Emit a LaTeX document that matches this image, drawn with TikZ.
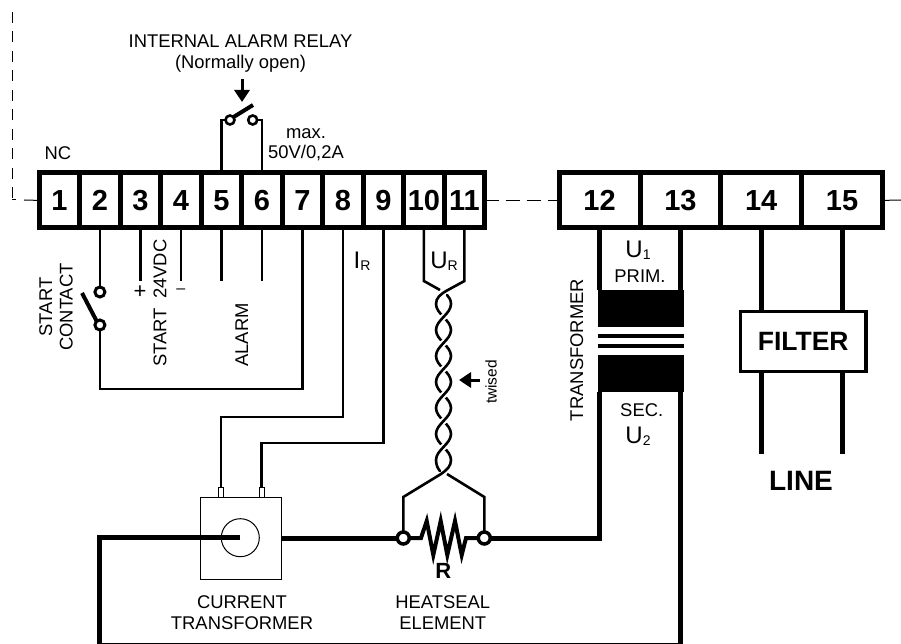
\documentclass[tikz,border=0pt]{standalone}
\usepackage{fontspec}
\setmainfont{Liberation Sans}
\usetikzlibrary{arrows.meta}
\newcommand{\lab}[2]{{\fontsize{24}{24}\selectfont #1\raisebox{-2.5pt}{\fontsize{14}{14}\selectfont #2}}}
\tikzset{
    terminal/.style={draw, line width=5pt, inner sep=0pt, outer sep=0pt, minimum height=55pt, font=\fontsize{29}{29}\selectfont\bfseries},
    smallterm/.style={terminal, minimum width=40.5pt},
    wideterm/.style={terminal, minimum width=80.8pt},
    wire/.style={line width=2.6pt, line join=miter},
    heavy/.style={line width=5pt, line join=miter},
    thin/.style={line width=1pt},
    pole/.style={circle, draw, fill=white, line width=3pt, inner sep=0pt, minimum size=10pt, outer sep=0pt},
    bigpole/.style={pole, minimum size=12pt, line width=3.5pt},
    tab/.style={draw, line width=1pt, fill=white, minimum width=5pt, minimum height=10pt, inner sep=0pt, outer sep=0pt},
    label/.style={font=\fontsize{18.4}{20.5}\selectfont, align=center, inner sep=0pt},
    lever/.style={line width=4pt},
    pointer/.style={line width=3pt, -{Triangle[length=12pt, width=15pt]}},
    halo/.style={white, line width=6.5pt},
    strand/.style={line width=2.6pt, line cap=round}
}
\begin{document}
\begin{tikzpicture}[x=1pt, y=-1pt]
    \useasboundingbox (0,0) rectangle (901,644);

    % Terminals 1-11
    \foreach \i/\x in {1/59.4, 2/99.9, 3/140.4, 4/180.9, 5/221.4, 6/261.9, 7/302.4, 8/342.9, 9/383.4, 10/423.9, 11/464.4} {
        \node[smallterm] (t\i) at (\x, 200.4) {\i};
    }

    % Terminals 12-15
    \foreach \i/\x in {12/599.6, 13/680.4, 14/761.2, 15/842} {
        \node[wideterm] (t\i) at (\x, 200.4) {\i};
    }

    % Dashed links
    \coordinate (dashtop) at (12,12);
    \coordinate (dashcorner) at (12,200);
    \coordinate (dashend) at (16,200);
    \coordinate (stubleft) at (24,200);
    \coordinate (stubright) at (901,200);
    \draw[thin, dash pattern=on 11pt off 8.5pt] (dashtop) -- (dashcorner);
    \draw[thin] (dashcorner) -- (dashend);
    \draw[thin] (stubleft) -- (t1.west);
    \draw[thin, dash pattern=on 14pt off 7pt] (t11.east) -- (t12.west);
    \draw[thin] (t15.east) -- (stubright);

    % Relay
    \node[label] (relaytext) at (240.5, 53.5) {INTERNAL ALARM RELAY\\[1pt](Normally open)};
    \node[pole, minimum size=9pt, line width=2.6pt] (relaya) at (230, 120) {};
    \node[pole, minimum size=9pt, line width=2.6pt] (relayb) at (252.7, 120) {};
    \draw[wire] (t5.north) |- (relaya.west);
    \draw[wire] (t6.north) |- (relayb.east);
    \coordinate (leverend) at (253, 105);
    \draw[lever] (relaya.40) -- (leverend);
    \coordinate (arrowtop) at (242, 79);
    \coordinate (arrowtip) at (242, 102);
    \draw[pointer] (arrowtop) -- (arrowtip);
    \node[label] (maxtext) at (306, 144.5) {max.\\50V/0,2A};
    \node[label] (nc) at (58, 152.7) {NC};

    % Start contact
    \node[pole, minimum size=10pt] (starta) at (99.9, 292) {};
    \node[pole, minimum size=10pt] (startb) at (99.9, 325) {};
    \coordinate (contactbend) at (99.9, 389);
    \coordinate (contactend) at (82, 293);
    \draw[wire] (t2.south) -- (starta.north);
    \draw[wire] (startb.south) |- (contactbend) -| (t7.south);
    \draw[lever] (startb.130) -- (contactend);
    \node[label, rotate=90] (contacttext) at (56, 307) {START\\CONTACT};

    % Start and alarm inputs
    \foreach \i in {3,4,5,6} {
        \coordinate (end\i) at (t\i.south |- 0,281);
        \draw[wire] (t\i.south) -- (end\i);
    }
    \node[label] (plus) at (140, 291.7) {\fontsize{22}{22}\selectfont +};
    \node[label] (minus) at (180.7, 291.7) {\fontsize{16}{16}\selectfont --};
    \node[label, rotate=90] (starttext) at (160, 303) {START\enspace 24VDC};
    \node[label, rotate=90] (alarmtext) at (241.7, 335) {ALARM};

    % Current transformer
    \node[draw, thin, minimum size=81.4pt, inner sep=0pt, outer sep=0pt] (ct) at (241, 538.3) {};
    \node[draw, thin, circle, minimum size=38pt, inner sep=0pt] (cthole) at (240.3, 537.7) {};
    \node[tab] (taba) at (221, 492.7) {};
    \node[tab] (tabb) at (261.7, 492.7) {};
    \coordinate (benda) at (221, 417);
    \coordinate (bendb) at (261.7, 443);
    \draw[wire] (t8.south) |- (benda) -- (taba.north);
    \draw[wire] (t9.south) |- (bendb) -- (tabb.north);
    \node[label] (cttext) at (242, 612.5) {CURRENT\\TRANSFORMER};
    \node[label] (irtext) at (362, 261) {\lab{I}{R}};

    % Heatseal element
    \node[bigpole] (rleft) at (403.3, 538) {};
    \node[bigpole] (rright) at (484.3, 538) {};
    \coordinate (lineend) at (240.3, 537.7);
    \coordinate (corner) at (99.3, 645.5);
    \coordinate (seca) at (599.6, 392);
    \coordinate (secb) at (680.4, 392);
    \draw[heavy] (lineend) -| (corner) -| (secb);
    \draw[heavy] (ct.east |- rleft) -- (rleft.west);
    \draw[heavy] (rright.east) -| (seca);
    \draw[line width=4pt, line join=miter] (rleft.east) -- (421,538) -- (426.7,521) -- (433.3,555) -- (440.7,521) -- (447.3,555) -- (455,521) -- (461.7,555) -- (466,538) -- (rright.west);
    \node[inner sep=0pt, font=\fontsize{22}{22}\selectfont\bfseries] (rtext) at (443.3, 570.7) {R};
    \node[label] (heattext) at (442.7, 612.8) {HEATSEAL\\ELEMENT};

    % U_R wires
    \coordinate (urleft) at (423.9, 281);
    \coordinate (urright) at (464.4, 281);
    \coordinate (bleft) at (403.3, 497);
    \coordinate (bright) at (484.3, 497);
    \draw[wire] (t10.south) -- (urleft) -- (440,290);
    \draw[wire] (t11.south) -- (urright) -- (447,290.5) .. controls (440,294.5) and (436,298) .. (436,304);
    \draw[strand] (447,295) .. controls (449,297) and (451,300) .. (451,304);
    \node[label] (urtext) at (444, 261) {\lab{U}{R}};

    % Twisted pair
    \foreach \y in {317,343,369,395,421,447} {
        \draw[strand] (436,\y-13) .. controls (436,\y-3) and (451,\y+3) .. (451,\y+13);
        \draw[halo] (451,\y-7) .. controls (449,\y-2) and (438,\y+2) .. (436,\y+7);
        \draw[strand] (451,\y-13) .. controls (451,\y-3) and (436,\y+3) .. (436,\y+13);
    }
    \draw[strand] (436,460) .. controls (436,465) and (438,469) .. (440,471);
    \draw[wire] (451,460) .. controls (451,466) and (447,470) .. (441,474) -- (bleft) -- (rleft.north);
    \draw[wire] (447,474) -- (bright) -- (rright.north);
    \coordinate (twistfrom) at (480, 380);
    \coordinate (twistto) at (459, 380);
    \draw[pointer] (twistfrom) -- (twistto);
    \node[inner sep=0pt, rotate=90, font=\fontsize{15.5}{15.5}\selectfont] (twisttext) at (491, 382) {twised};

    % Transformer
    \fill (597.7,290) rectangle (683.7,326.7);
    \fill (597.7,355) rectangle (683.7,391.7);
    \draw[line width=4.3pt] (597.7,336) -- (683.7,336);
    \draw[line width=4.3pt] (597.7,346) -- (683.7,346);
    \draw[heavy] (t12.south) -- (599.6,290);
    \draw[heavy] (t13.south) -- (680.4,290);
    \node[label, rotate=90] (transtext) at (576.7, 350) {TRANSFORMER};
    \node[label] (u1text) at (638, 250) {\lab{U}{1}};
    \node[label] (primtext) at (640, 275.7) {PRIM.};
    \node[label] (sectext) at (641.7, 410) {SEC.};
    \node[label] (u2text) at (638, 436) {\lab{U}{2}};

    % Filter
    \node[draw, line width=3.5pt, minimum width=125.5pt, minimum height=60pt, inner sep=0pt, outer sep=0pt, font=\fontsize{26.5}{26.5}\selectfont\bfseries] (filter) at (803.2, 341.5) {FILTER};
    \coordinate (linea) at (761.2, 454);
    \coordinate (lineb) at (842, 454);
    \draw[heavy] (t14.south) -- (filter.north -| t14);
    \draw[heavy] (t15.south) -- (filter.north -| t15);
    \draw[heavy] (filter.south -| t14) -- (linea);
    \draw[heavy] (filter.south -| t15) -- (lineb);
    \node[inner sep=0pt, font=\fontsize{28}{28}\selectfont\bfseries] (linetext) at (801, 481) {LINE};
\end{tikzpicture}
\end{document}
